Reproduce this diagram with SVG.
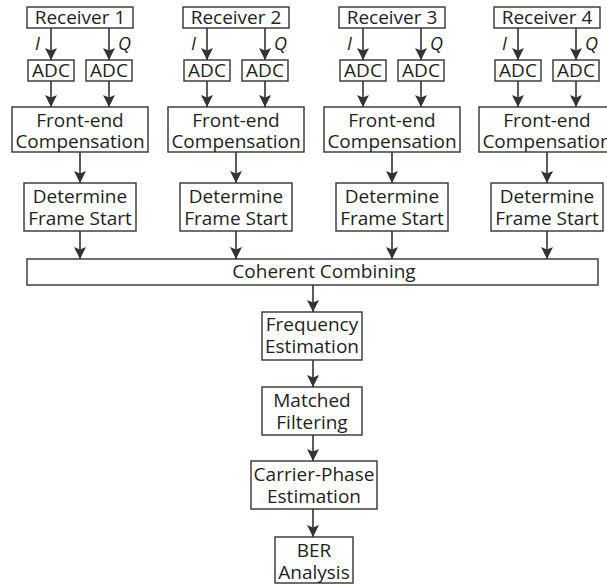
<svg xmlns="http://www.w3.org/2000/svg" width="607" height="584" viewBox="0 0 607 584">
<style>
.box{fill:#fff;stroke:#333;stroke-width:1.4}
.t{font-family:"Open Sans","Noto Sans",sans-serif;font-size:19px;fill:#231f20;text-anchor:middle}
.lab{font-family:"Open Sans","Noto Sans",sans-serif;font-size:18px;font-style:italic;fill:#231f20}
.c line{stroke:#333;stroke-width:1.6;marker-end:url(#ah)}
</style>
<defs>
<marker id="ah" viewBox="0 0 12 12" markerWidth="12" markerHeight="12" refX="12" refY="6" orient="auto" markerUnits="userSpaceOnUse">
<path d="M0,0 L12,6 L0,12 L2.5,6 z" fill="#333"/>
</marker>
</defs>
<rect width="607" height="584" fill="#fff"/>
<g class="c" id="connectors">
<line x1="51" y1="28" x2="51" y2="60"/><line x1="109" y1="28" x2="109" y2="60"/>
<line x1="51" y1="81" x2="51" y2="107"/><line x1="109" y1="81" x2="109" y2="107"/>
<line x1="80" y1="152" x2="80" y2="183"/><line x1="80" y1="231" x2="80" y2="259"/>
<line x1="207" y1="28" x2="207" y2="60"/><line x1="265" y1="28" x2="265" y2="60"/>
<line x1="207" y1="81" x2="207" y2="107"/><line x1="265" y1="81" x2="265" y2="107"/>
<line x1="236" y1="152" x2="236" y2="183"/><line x1="236" y1="231" x2="236" y2="259"/>
<line x1="363" y1="28" x2="363" y2="60"/><line x1="421" y1="28" x2="421" y2="60"/>
<line x1="363" y1="81" x2="363" y2="107"/><line x1="421" y1="81" x2="421" y2="107"/>
<line x1="392" y1="152" x2="392" y2="183"/><line x1="392" y1="231" x2="392" y2="259"/>
<line x1="518" y1="28" x2="518" y2="60"/><line x1="576" y1="28" x2="576" y2="60"/>
<line x1="518" y1="81" x2="518" y2="107"/><line x1="576" y1="81" x2="576" y2="107"/>
<line x1="547" y1="152" x2="547" y2="183"/><line x1="547" y1="231" x2="547" y2="259"/>
<line x1="313" y1="285" x2="313" y2="312"/>
<line x1="313" y1="360" x2="313" y2="387"/>
<line x1="313" y1="435" x2="313" y2="461"/>
<line x1="313" y1="509" x2="313" y2="537"/>
</g>
<g id="iq-labels">
<text class="lab" x="35" y="50">I</text><text class="lab" x="118" y="50">Q</text>
<text class="lab" x="191" y="50">I</text><text class="lab" x="274" y="50">Q</text>
<text class="lab" x="347" y="50">I</text><text class="lab" x="430" y="50">Q</text>
<text class="lab" x="502" y="50">I</text><text class="lab" x="585" y="50">Q</text>
</g>
<g id="rx1"><rect class="box" x="27" y="7" width="106" height="21"/><text class="t" x="80" y="24">Receiver 1</text></g>
<g id="rx2"><rect class="box" x="183" y="7" width="106" height="21"/><text class="t" x="236" y="24">Receiver 2</text></g>
<g id="rx3"><rect class="box" x="339" y="7" width="106" height="21"/><text class="t" x="392" y="24">Receiver 3</text></g>
<g id="rx4"><rect class="box" x="494" y="7" width="106" height="21"/><text class="t" x="547" y="24">Receiver 4</text></g>
<g id="adc1i"><rect class="box" x="28" y="60" width="46" height="21"/><text class="t" x="51" y="77">ADC</text></g>
<g id="adc1q"><rect class="box" x="86" y="60" width="46" height="21"/><text class="t" x="109" y="77">ADC</text></g>
<g id="adc2i"><rect class="box" x="184" y="60" width="46" height="21"/><text class="t" x="207" y="77">ADC</text></g>
<g id="adc2q"><rect class="box" x="242" y="60" width="46" height="21"/><text class="t" x="265" y="77">ADC</text></g>
<g id="adc3i"><rect class="box" x="340" y="60" width="46" height="21"/><text class="t" x="363" y="77">ADC</text></g>
<g id="adc3q"><rect class="box" x="398" y="60" width="46" height="21"/><text class="t" x="421" y="77">ADC</text></g>
<g id="adc4i"><rect class="box" x="495" y="60" width="46" height="21"/><text class="t" x="518" y="77">ADC</text></g>
<g id="adc4q"><rect class="box" x="553" y="60" width="46" height="21"/><text class="t" x="576" y="77">ADC</text></g>
<g id="fe1"><rect class="box" x="12" y="107" width="136" height="45"/><text class="t"><tspan x="80" y="127">Front-end</tspan><tspan x="80" y="148">Compensation</tspan></text></g>
<g id="fe2"><rect class="box" x="168" y="107" width="136" height="45"/><text class="t"><tspan x="236" y="127">Front-end</tspan><tspan x="236" y="148">Compensation</tspan></text></g>
<g id="fe3"><rect class="box" x="324" y="107" width="136" height="45"/><text class="t"><tspan x="392" y="127">Front-end</tspan><tspan x="392" y="148">Compensation</tspan></text></g>
<g id="fe4"><rect class="box" x="479" y="107" width="136" height="45"/><text class="t"><tspan x="547" y="127">Front-end</tspan><tspan x="547" y="148">Compensation</tspan></text></g>
<g id="dfs1"><rect class="box" x="24" y="183" width="112" height="48"/><text class="t"><tspan x="80" y="203">Determine</tspan><tspan x="80" y="225">Frame Start</tspan></text></g>
<g id="dfs2"><rect class="box" x="180" y="183" width="112" height="48"/><text class="t"><tspan x="236" y="203">Determine</tspan><tspan x="236" y="225">Frame Start</tspan></text></g>
<g id="dfs3"><rect class="box" x="336" y="183" width="112" height="48"/><text class="t"><tspan x="392" y="203">Determine</tspan><tspan x="392" y="225">Frame Start</tspan></text></g>
<g id="dfs4"><rect class="box" x="491" y="183" width="112" height="48"/><text class="t"><tspan x="547" y="203">Determine</tspan><tspan x="547" y="225">Frame Start</tspan></text></g>
<g id="comb"><rect class="box" x="27" y="259" width="571" height="26"/><text class="t" x="324" y="278">Coherent Combining</text></g>
<g id="freq"><rect class="box" x="262" y="312" width="100" height="48"/><text class="t"><tspan x="312" y="331">Frequency</tspan><tspan x="312" y="353">Estimation</tspan></text></g>
<g id="mf"><rect class="box" x="262" y="387" width="100" height="48"/><text class="t"><tspan x="312" y="407">Matched</tspan><tspan x="312" y="429">Filtering</tspan></text></g>
<g id="cpe"><rect class="box" x="251" y="461" width="126" height="48"/><text class="t"><tspan x="314" y="481">Carrier-Phase</tspan><tspan x="314" y="503">Estimation</tspan></text></g>
<g id="ber"><rect class="box" x="275" y="537" width="78" height="46"/><text class="t"><tspan x="314" y="557">BER</tspan><tspan x="314" y="579">Analysis</tspan></text></g>
</svg>
